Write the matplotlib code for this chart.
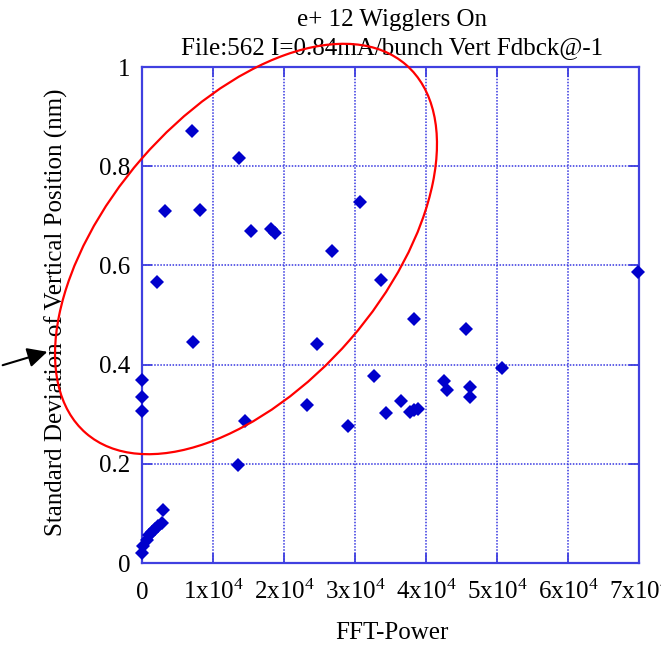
import matplotlib
matplotlib.use("Agg")
import matplotlib.pyplot as plt
from matplotlib.patches import Ellipse, FancyArrowPatch

# ---- data ----
fft_power = [7100, 13600, 3300, 8200, 15400, 18100, 18800, 26800, 30700,
             2100, 33700, 38300, 45700, 7200, 24700, 69900, 50700, 32700,
             0, 0, 0, 23300, 14500, 29000, 34400, 36500, 37700, 38300, 38900,
             42500, 43000, 46200, 46200, 13500,
             2900, 20, 200, 650, 1000, 1350, 1800, 2250, 2750]
std_vert = [0.870, 0.817, 0.709, 0.711, 0.669, 0.674, 0.666, 0.630, 0.728,
            0.567, 0.570, 0.491, 0.472, 0.445, 0.442, 0.586, 0.394, 0.377,
            0.368, 0.334, 0.307, 0.319, 0.286, 0.277, 0.302, 0.327, 0.304, 0.308, 0.310,
            0.367, 0.349, 0.355, 0.335, 0.197,
            0.107, 0.020, 0.034, 0.046, 0.056, 0.063, 0.068, 0.075, 0.081]

x_ticks = [0, 10000, 20000, 30000, 40000, 50000, 60000, 70000]
x_tick_labels = ['0'] + [r'%dx10$^{\mathrm{4}}$' % i for i in range(1, 8)]
y_ticks = [0, 0.2, 0.4, 0.6, 0.8, 1.0]
y_tick_labels = ['0', '0.2', '0.4', '0.6', '0.8', '1']

title_line1 = "e+ 12 Wigglers On"
title_line2 = "File:562 I=0.84mA/bunch Vert Fdbck@-1"
x_label = "FFT-Power"
y_label = "Standard Deviation of Vertical Position (nm)"

# ---- style ----
plt.rcParams['font.family'] = ['Liberation Serif', 'DejaVu Serif']
plt.rcParams['mathtext.fontset'] = 'custom'
plt.rcParams['mathtext.rm'] = 'Liberation Serif'
plt.rcParams['mathtext.it'] = 'Liberation Serif:italic'
plt.rcParams['mathtext.bf'] = 'Liberation Serif:bold'

FS = 18
W, H = 661, 646
fig = plt.figure(figsize=(W / 100, H / 100), dpi=100)
L, R, T, B = 142, 639, 67, 563
ax = fig.add_axes([L / W, (H - B) / H, (R - L) / W, (B - T) / H])

frame_c = '#4040E0'
grid_c = '#3535E0'

ax.plot(fft_power, std_vert, linestyle='none', marker='D', markersize=6.8,
        color='#0000CC', markeredgewidth=0, clip_on=False, zorder=5)

ax.set_xlim(0, 70000)
ax.set_ylim(0, 1)
ax.set_xticks(x_ticks)
ax.set_xticklabels(x_tick_labels)
ax.set_yticks(y_ticks)
ax.set_yticklabels(y_tick_labels)

for sp in ax.spines.values():
    sp.set_color(frame_c)
    sp.set_linewidth(1.6)

ax.grid(True, linestyle=(0, (1, 1)), color=grid_c, linewidth=1.1)
ax.tick_params(axis='both', which='major', direction='in', length=7, width=1.3,
               color=frame_c, top=True, right=True, labelsize=FS, labelcolor='black')
ax.tick_params(axis='x', pad=26)
ax.tick_params(axis='y', pad=8.5)
for lab in ax.get_xticklabels():
    lab.set_verticalalignment('baseline')

ax.set_xlabel(x_label, fontsize=FS)
ax.xaxis.set_label_coords(0.503, -0.142)
ax.xaxis.label.set_verticalalignment('center')
ax.set_ylabel(y_label, fontsize=FS)
ax.yaxis.set_label_coords(-0.173, 0.505)
ax.yaxis.label.set_verticalalignment('center')

fig.text(392 / W, 1 - 20 / H, title_line1, ha='center', va='center', fontsize=FS)
fig.text(392 / W, 1 - 48 / H, title_line2, ha='center', va='center', fontsize=FS)

# ---- annotations (ellipse and arrow), in figure inches ----
ell = Ellipse((246 / 100, (H - 249) / 100), width=4.88, height=2.76, angle=49,
              fill=False, edgecolor='#FF0000', linewidth=1.6,
              transform=fig.dpi_scale_trans, clip_on=False, zorder=10)
fig.add_artist(ell)
arr = FancyArrowPatch((0.0, (H - 366) / 100), (0.50, (H - 351) / 100),
                      arrowstyle='-|>,head_length=12,head_width=6',
                      mutation_scale=1, color='black', linewidth=1.5,
                      transform=fig.dpi_scale_trans, clip_on=False)
fig.add_artist(arr)

fig.savefig('out.png', dpi=100)
